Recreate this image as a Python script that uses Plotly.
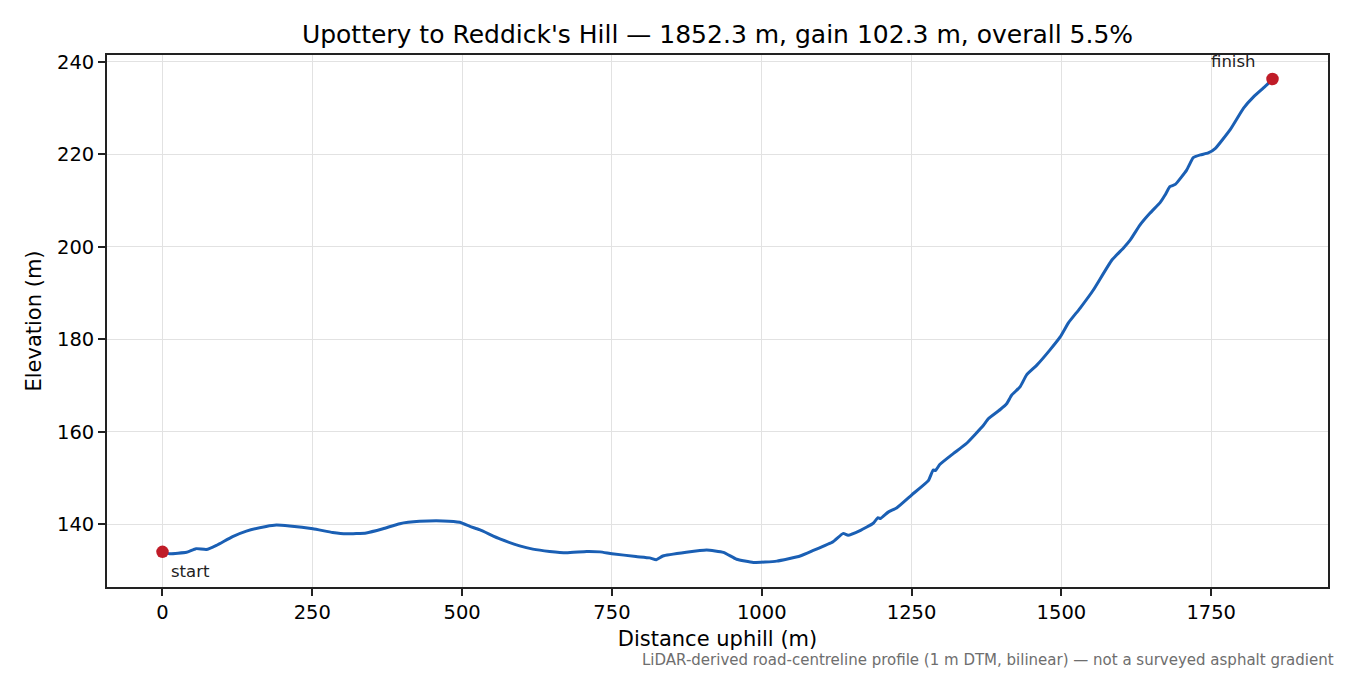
import plotly.graph_objects as go

# distance along the road (m) and elevation (m)
distance_m = [0, 12, 40, 56, 73, 90, 117, 140, 173, 190, 212, 251, 284, 307, 340,
              368, 396, 429, 468, 496, 513, 529, 563, 596, 618, 646, 674, 708, 730,
              750, 790, 813, 824, 835, 874, 908, 936, 958, 986, 1025, 1064, 1086,
              1119, 1136, 1144, 1164, 1186, 1194, 1198, 1211, 1225, 1250, 1278, 1286,
              1290, 1297, 1320, 1342, 1370, 1378, 1398, 1409, 1417, 1431, 1442, 1459,
              1481, 1498, 1512, 1531, 1553, 1584, 1604, 1615, 1631, 1648, 1665, 1673,
              1681, 1690, 1709, 1720, 1732, 1745, 1757, 1782, 1804, 1821, 1840, 1852.3]
elevation_m = [134.0, 133.6, 133.9, 134.7, 134.5, 135.4, 137.3, 138.5, 139.5, 139.8,
               139.6, 139.0, 138.2, 137.9, 138.1, 139.0, 140.1, 140.6, 140.7, 140.4,
               139.5, 138.8, 136.8, 135.3, 134.6, 134.1, 133.8, 134.1, 134.0, 133.6,
               133.0, 132.7, 132.3, 133.1, 133.9, 134.4, 133.9, 132.4, 131.7, 132.0,
               133.1, 134.3, 136.2, 138.0, 137.6, 138.6, 140.2, 141.4, 141.2, 142.6,
               143.5, 146.3, 149.4, 151.7, 151.6, 152.9, 155.3, 157.5, 161.4, 162.8,
               164.8, 166.1, 167.9, 169.7, 172.3, 174.4, 177.7, 180.5, 183.6, 186.7,
               190.6, 197.1, 199.8, 201.5, 204.7, 207.3, 209.6, 211.2, 213.0, 213.5,
               216.6, 219.3, 219.9, 220.3, 221.3, 225.4, 230.0, 232.5, 234.7, 236.3]

x_ticks = [0, 250, 500, 750, 1000, 1250, 1500, 1750]
y_ticks = [140, 160, 180, 200, 220, 240]

LINE = '#1a5fb4'
DOT = '#c01c28'
FONT = 'DejaVu Sans'

fig = go.Figure()

fig.add_trace(go.Scatter(
    x=distance_m, y=elevation_m, mode='lines',
    line=dict(color=LINE, width=3, shape='spline', smoothing=0.4),
    showlegend=False, hoverinfo='skip'
))

# start / finish markers
fig.add_trace(go.Scatter(
    x=[distance_m[0], distance_m[-1]], y=[elevation_m[0], elevation_m[-1]],
    mode='markers', marker=dict(color=DOT, size=12.5),
    showlegend=False, hoverinfo='skip'
))

fig.add_annotation(x=distance_m[0], y=elevation_m[0], text='start', showarrow=False,
                   xanchor='left', yanchor='middle', xshift=7, yshift=-20,
                   font=dict(family=FONT, size=16.5, color='#222'))
fig.add_annotation(x=distance_m[-1], y=elevation_m[-1], text='finish', showarrow=False,
                   xanchor='center', yanchor='middle', xshift=-39, yshift=18,
                   font=dict(family=FONT, size=16.5, color='#222'))

fig.add_annotation(xref='paper', yref='paper', x=1.0066, y=-0.137,
                   text='LiDAR-derived road-centreline profile (1 m DTM, bilinear) — not a surveyed asphalt gradient',
                   showarrow=False, xanchor='right', yanchor='middle',
                   font=dict(family=FONT, size=15, color='#6e6e6e'))

axis_common = dict(
    showline=True, linecolor='#222', linewidth=1.7, mirror=True,
    ticks='outside', ticklen=7, tickwidth=1.6, tickcolor='#222',
    showgrid=True, gridcolor='#e2e2e2', gridwidth=1.3, zeroline=False,
    tickfont=dict(family=FONT, size=19.5, color='#000'),
)

fig.update_layout(
    width=1350, height=675,
    paper_bgcolor='white', plot_bgcolor='white',
    margin=dict(l=99, r=30, t=47, b=96),
    title=dict(text="Upottery to Reddick's Hill — 1852.3 m, gain 102.3 m, overall 5.5%",
               xref='paper', x=0.5, xanchor='center', y=0.961, yanchor='middle',
               font=dict(family=FONT, size=25, color='#000')),
    xaxis=dict(axis_common, range=[-92.6, 1944.9], tickvals=x_ticks,
               title=dict(text='Distance uphill (m)', standoff=8,
                          font=dict(family=FONT, size=21, color='#000'))),
    yaxis=dict(axis_common, range=[126.4, 241.5], tickvals=y_ticks,
               title=dict(text='Elevation (m)', standoff=10,
                          font=dict(family=FONT, size=21, color='#000'))),
)

fig.write_html("out.html")
